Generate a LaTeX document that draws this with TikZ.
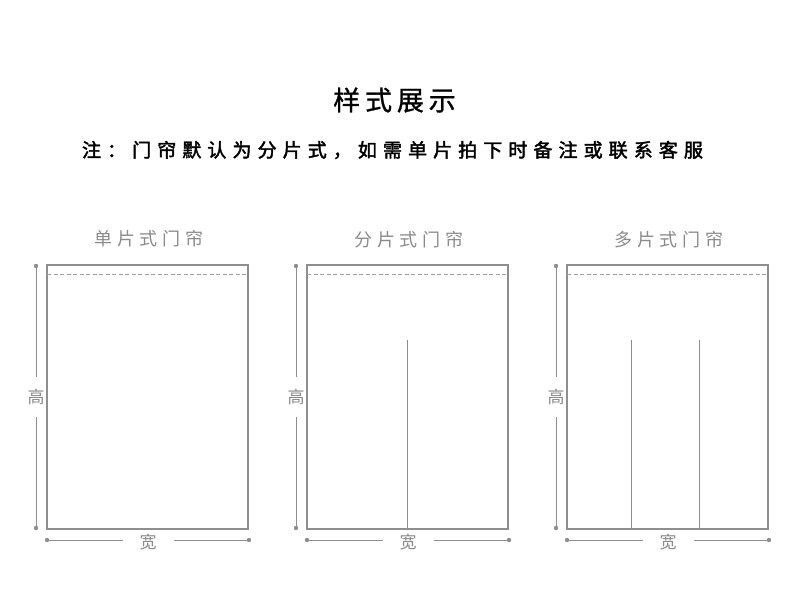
\documentclass[tikz,border=0pt]{standalone}
\usepackage{fontspec}
\newfontfamily\cjk{Noto Sans CJK SC}
\newfontfamily\cjkhead[LetterSpace=18,FakeBold=1]{Noto Sans CJK SC}
\newfontfamily\cjknote[LetterSpace=32,FakeBold=2.2]{Noto Sans CJK SC}
\newfontfamily\cjkpanel[LetterSpace=26]{Noto Sans CJK SC}
\usetikzlibrary{positioning}

\definecolor{linegray}{HTML}{8E8E8E}
\definecolor{labelgray}{HTML}{8A8A8A}

\begin{document}
\begin{tikzpicture}[x=1pt,y=-1pt,
  frame/.style={draw=linegray, line width=1.1pt},
  fold/.style={draw=linegray!85, line width=0.9pt, dash pattern=on 4pt off 2.5pt},
  seam/.style={draw=linegray, line width=1pt},
  dimline/.style={draw=linegray, line width=1pt},
  dimdot/.style={circle, fill=linegray, inner sep=0pt, minimum size=4.4pt},
  dimlabel/.style={fill=white, text=labelgray, font=\cjk\fontsize{17}{17}\selectfont},
  paneltitle/.style={text=labelgray, inner sep=0pt, font=\cjkpanel\fontsize{18}{18}\selectfont}
]
  % canvas
  \useasboundingbox (0,0) rectangle (790,598);

  %-----------------------------
  % headings
  \node[font=\cjkhead\fontsize{27}{27}\selectfont, inner sep=0pt] (title) at (394.5,100) {样式展示};
  \node[font=\cjknote\fontsize{19}{19}\selectfont, inner sep=0pt] (note) at (392.5,150)
       {注：门帘默认为分片式，如需单片拍下时备注或联系客服};

  %-----------------------------
  % single panel curtain
  \coordinate (A-nw) at (47,265);
  \coordinate (A-se) at (248,529);
  \coordinate (A-fl) at (47,274);
  \coordinate (A-fr) at (248,274);
  \node[paneltitle] (A-title) at (149,239) {单片式门帘};
  \draw[frame] (A-nw) rectangle (A-se);
  \draw[fold] (A-fl) -- (A-fr);
  \node[dimdot] (A-h1) at (36,266) {};
  \node[dimdot] (A-h2) at (36,528) {};
  \draw[dimline] (A-h1) -- (A-h2) node[midway, dimlabel, inner xsep=0pt, inner ysep=12pt] {高};
  \node[dimdot] (A-w1) at (47,540) {};
  \node[dimdot] (A-w2) at (249,540) {};
  \draw[dimline] (A-w1) -- (A-w2) node[midway, dimlabel, yshift=-2pt, inner xsep=17pt, inner ysep=1pt] {宽};

  %-----------------------------
  % split curtain, one seam
  \coordinate (B-nw) at (307,265);
  \coordinate (B-se) at (508,529);
  \coordinate (B-fl) at (307,274);
  \coordinate (B-fr) at (508,274);
  \coordinate (B-s1) at (407,340);
  \coordinate (B-b1) at (407,529);
  \node[paneltitle] (B-title) at (409,240) {分片式门帘};
  \draw[frame] (B-nw) rectangle (B-se);
  \draw[fold] (B-fl) -- (B-fr);
  \draw[seam] (B-s1) -- (B-b1);
  \node[dimdot] (B-h1) at (296,266) {};
  \node[dimdot] (B-h2) at (296,528) {};
  \draw[dimline] (B-h1) -- (B-h2) node[midway, dimlabel, inner xsep=0pt, inner ysep=12pt] {高};
  \node[dimdot] (B-w1) at (307,540) {};
  \node[dimdot] (B-w2) at (509,540) {};
  \draw[dimline] (B-w1) -- (B-w2) node[midway, dimlabel, yshift=-2pt, inner xsep=17pt, inner ysep=1pt] {宽};

  %-----------------------------
  % multi panel curtain, two seams
  \coordinate (C-nw) at (567,265);
  \coordinate (C-se) at (768,529);
  \coordinate (C-fl) at (567,274);
  \coordinate (C-fr) at (768,274);
  \coordinate (C-s1) at (631,340);
  \coordinate (C-b1) at (631,529);
  \coordinate (C-s2) at (699,340);
  \coordinate (C-b2) at (699,529);
  \node[paneltitle] (C-title) at (669,240) {多片式门帘};
  \draw[frame] (C-nw) rectangle (C-se);
  \draw[fold] (C-fl) -- (C-fr);
  \draw[seam] (C-s1) -- (C-b1);
  \draw[seam] (C-s2) -- (C-b2);
  \node[dimdot] (C-h1) at (556,266) {};
  \node[dimdot] (C-h2) at (556,528) {};
  \draw[dimline] (C-h1) -- (C-h2) node[midway, dimlabel, inner xsep=0pt, inner ysep=12pt] {高};
  \node[dimdot] (C-w1) at (567,540) {};
  \node[dimdot] (C-w2) at (769,540) {};
  \draw[dimline] (C-w1) -- (C-w2) node[midway, dimlabel, yshift=-2pt, inner xsep=17pt, inner ysep=1pt] {宽};
\end{tikzpicture}
\end{document}
